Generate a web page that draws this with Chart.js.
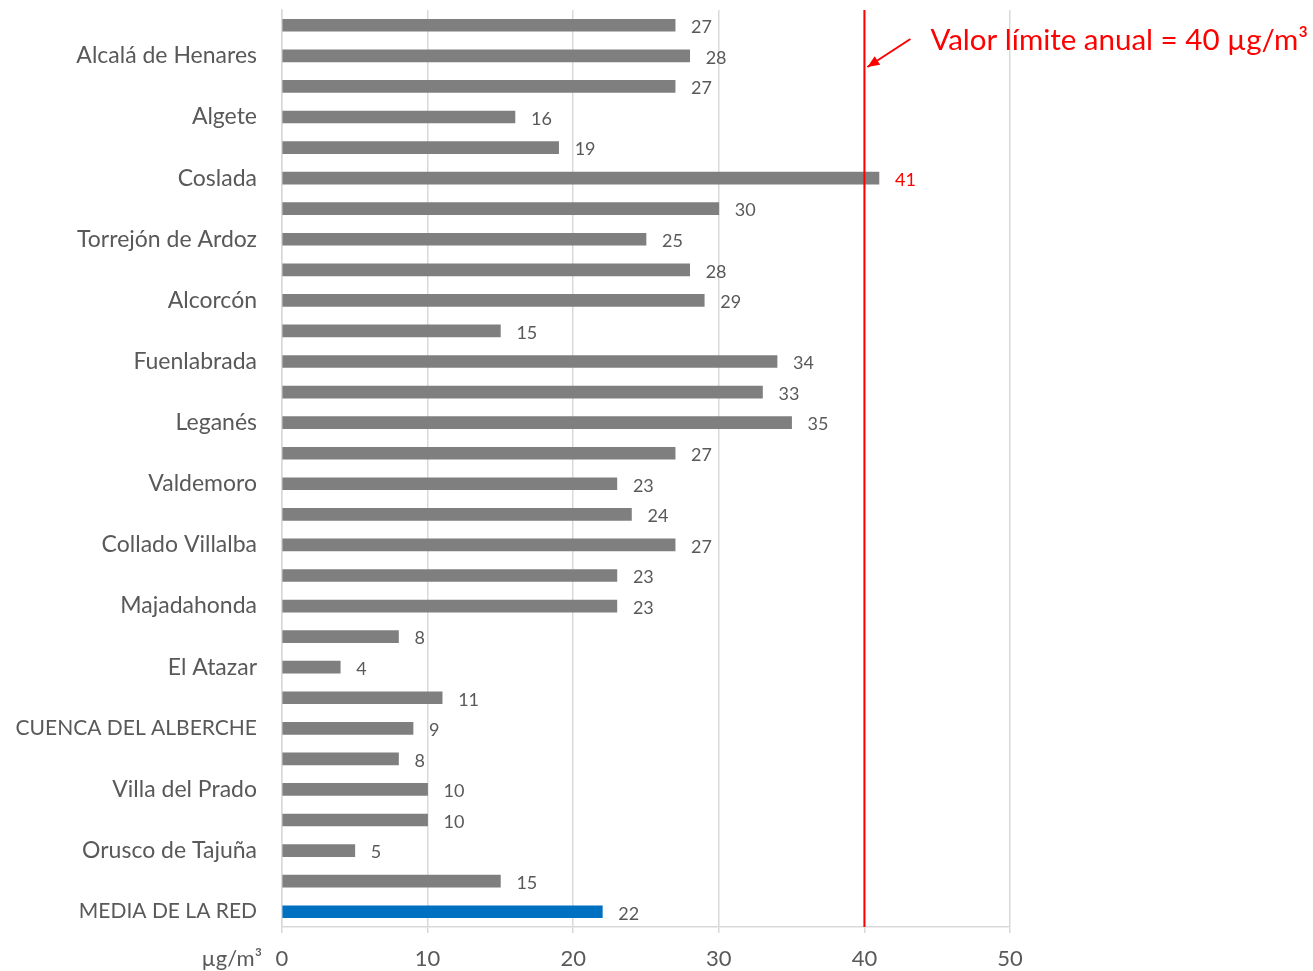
<!DOCTYPE html>
<html>
<head>
<meta charset="utf-8">
<script src="https://cdn.jsdelivr.net/npm/chart.js@4.4.0/dist/chart.umd.min.js"></script>
<style>
  html, body { margin: 0; padding: 0; background: #fff; }
  #wrap { width: 1313px; height: 971px; }
</style>
</head>
<body>
<div id="wrap"><canvas id="bar-chart"></canvas></div>
<script>
// Estaciones (solo se rotula una de cada dos)
const stations = ["", "Alcalá de Henares", "", "Algete", "", "Coslada", "", "Torrejón de Ardoz",
  "", "Alcorcón", "", "Fuenlabrada", "", "Leganés", "", "Valdemoro", "", "Collado Villalba",
  "", "Majadahonda", "", "El Atazar", "", "CUENCA DEL ALBERCHE", "", "Villa del Prado",
  "", "Orusco de Tajuña", "", "MEDIA DE LA RED"];
const no2Values = [27, 28, 27, 16, 19, 41, 30, 25, 28, 29, 15, 34, 33, 35, 27, 23, 24, 27,
  23, 23, 8, 4, 11, 9, 8, 10, 10, 5, 15, 22];
const xTicks = [0, 10, 20, 30, 40, 50];
const limitValue = 40;
const limitText = "Valor límite anual = 40 µg/m³";
const unitText = "µg/m³";

const FONT = "Lato, 'Open Sans', sans-serif";
const barColors = no2Values.map((v, i) => i === no2Values.length - 1 ? "#0070c0" : "#7f7f7f");

// valores al final de cada barra + línea del valor límite
const extras = {
  id: 'extras',
  afterDatasetsDraw(chart) {
    const ctx = chart.ctx;
    const xs = chart.scales.x;
    const area = chart.chartArea;
    const meta = chart.getDatasetMeta(0);
    ctx.save();
    ctx.font = "18px " + FONT;
    ctx.textAlign = "left";
    ctx.textBaseline = "middle";
    meta.data.forEach((bar, i) => {
      const v = no2Values[i];
      ctx.fillStyle = v > limitValue ? "#ff0000" : "#595959";
      ctx.fillText(String(v), bar.x + 16, bar.y + 2);
    });

    // línea límite
    const lx = xs.getPixelForValue(limitValue);
    ctx.strokeStyle = "#ff0000";
    ctx.lineWidth = 2;
    ctx.beginPath();
    ctx.moveTo(lx, area.top);
    ctx.lineTo(lx, area.bottom);
    ctx.stroke();

    // flecha
    const tipX = lx + 3, tipY = area.top + 57;
    const fromX = lx + 46, fromY = area.top + 29;
    ctx.lineWidth = 2;
    ctx.beginPath();
    ctx.moveTo(fromX, fromY);
    ctx.lineTo(tipX, tipY);
    ctx.stroke();
    const ang = Math.atan2(tipY - fromY, tipX - fromX);
    ctx.fillStyle = "#ff0000";
    ctx.beginPath();
    ctx.moveTo(tipX, tipY);
    ctx.lineTo(tipX - 13 * Math.cos(ang - 0.4), tipY - 13 * Math.sin(ang - 0.4));
    ctx.lineTo(tipX - 13 * Math.cos(ang + 0.4), tipY - 13 * Math.sin(ang + 0.4));
    ctx.closePath();
    ctx.fill();

    ctx.font = "29.5px " + FONT;
    ctx.fillStyle = "#ff0000";
    ctx.textBaseline = "middle";
    ctx.fillText(limitText, lx + 66, area.top + 30);

    // unidad del eje x
    ctx.font = "22px " + FONT;
    ctx.fillStyle = "#595959";
    ctx.textAlign = "right";
    ctx.fillText(unitText, area.left - 20, area.bottom + 32);
    ctx.restore();
  }
};

new Chart(document.getElementById('bar-chart').getContext('2d'), {
  type: 'bar',
  data: {
    labels: stations,
    datasets: [{
      data: no2Values,
      backgroundColor: barColors,
      barThickness: 12,
      borderWidth: 0
    }]
  },
  options: {
    indexAxis: 'y',
    responsive: true,
    maintainAspectRatio: false,
    animation: false,
    devicePixelRatio: 1,
    layout: { padding: { left: 0, right: 303, top: 10, bottom: 0 } },
    plugins: { legend: { display: false }, tooltip: { enabled: false } },
    scales: {
      x: {
        min: 0, max: 50,
        afterBuildTicks(scale) { scale.ticks = xTicks.map(v => ({ value: v })); },
        afterFit(scale) { scale.height = 44; scale.paddingLeft = 0; scale.paddingRight = 0; },
        grid: { color: "#d9d9d9", lineWidth: 1.5, tickLength: 6 },
        border: { color: "#d9d9d9", width: 1.5 },
        ticks: { color: "#595959", font: { family: FONT, size: 22 }, padding: 13, maxRotation: 0 }
      },
      y: {
        afterFit(scale) { scale.width = 282; scale.paddingTop = 0; scale.paddingBottom = 0; },
        grid: { display: false },
        border: { color: "#d9d9d9", width: 1.5 },
        ticks: {
          autoSkip: false, color: "#595959", padding: 17,
          font: (c) => {
            const lbl = stations[c.index] || "";
            const upper = lbl !== "" && lbl === lbl.toUpperCase();
            return { family: FONT, size: upper ? 21 : 23 };
          }
        }
      }
    }
  },
  plugins: [extras]
});
</script>
</body>
</html>
